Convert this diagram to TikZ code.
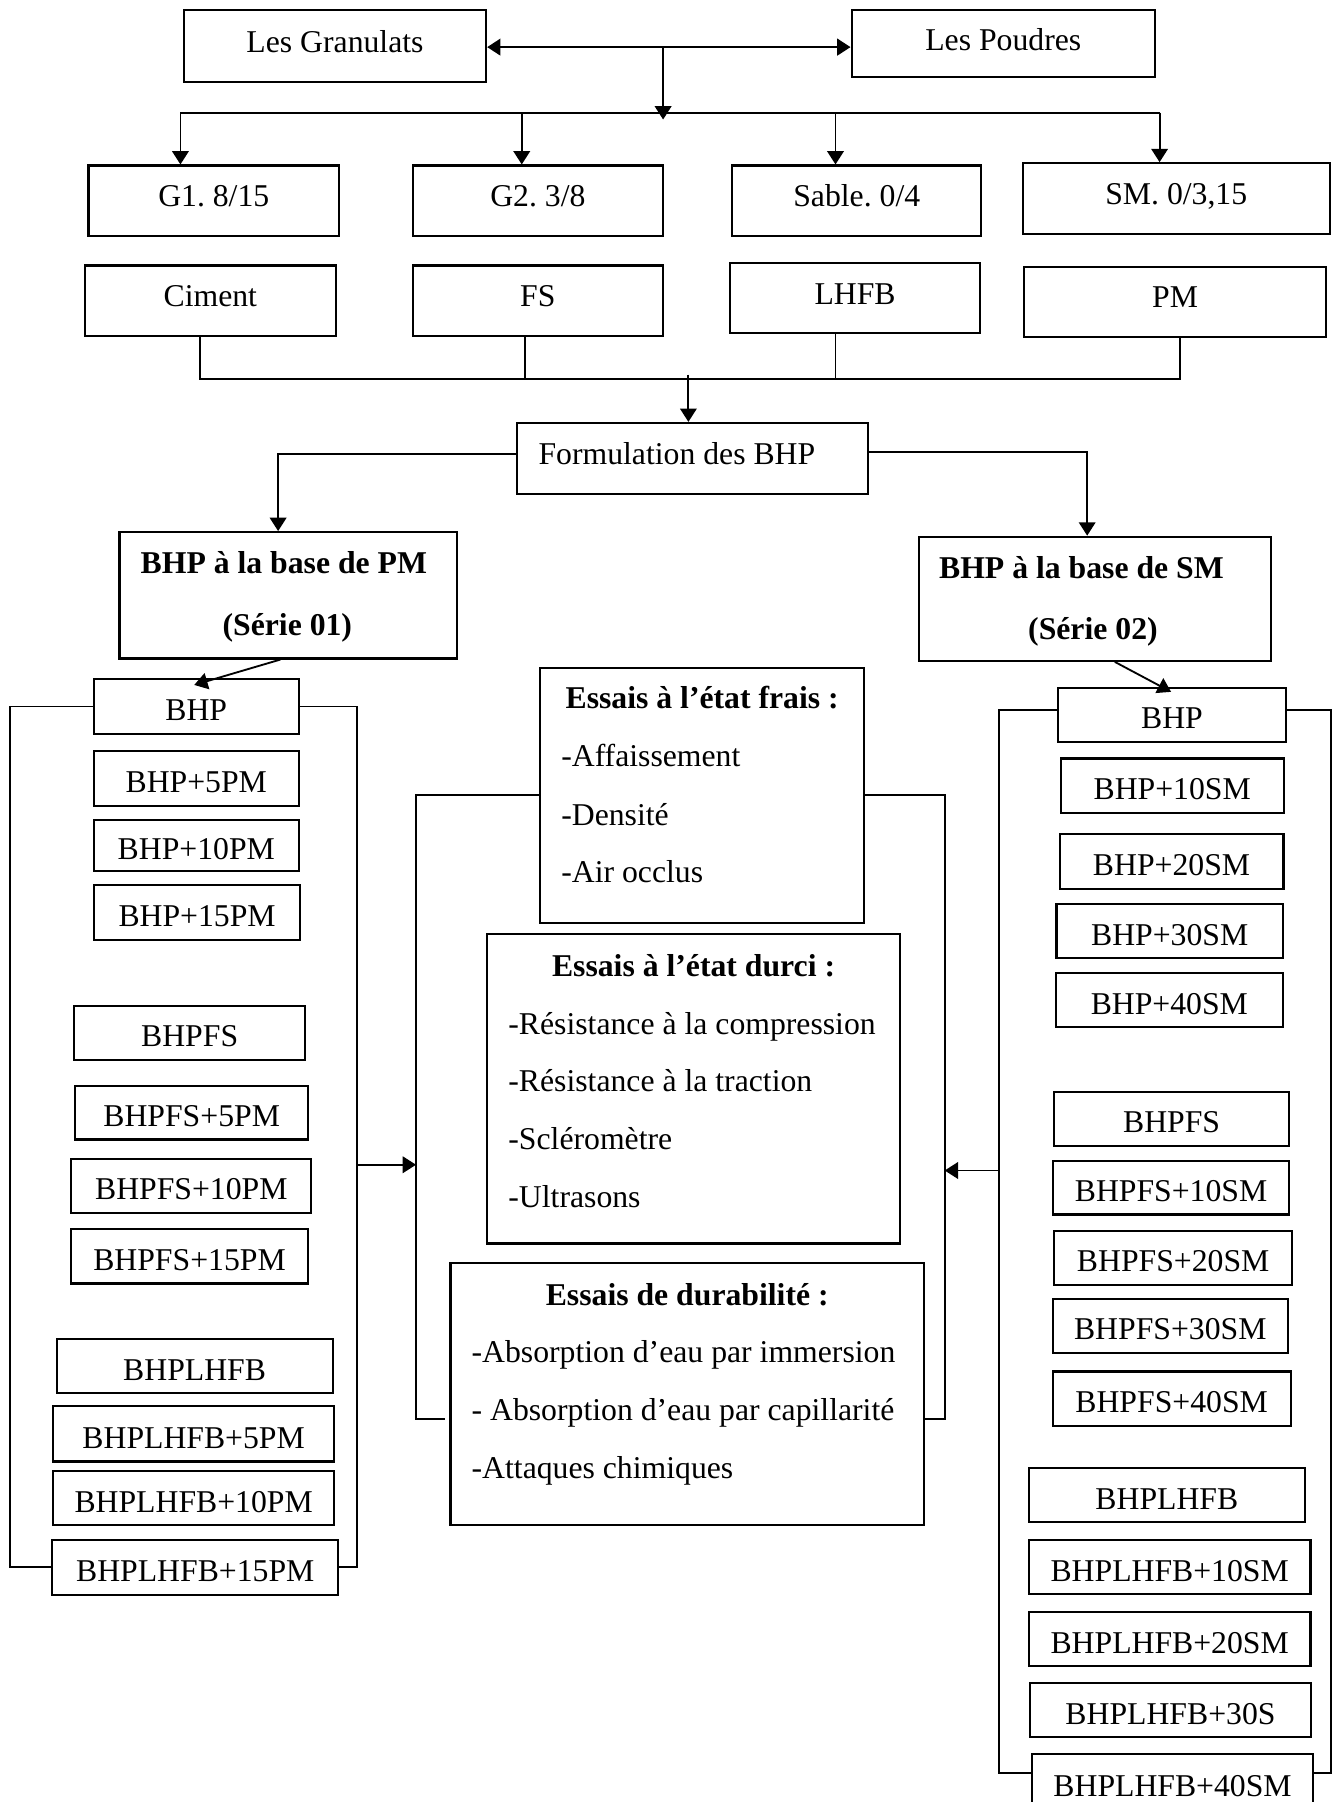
\documentclass[tikz,border=0pt]{standalone}
\usepackage{fontspec}
\setmainfont{Liberation Serif}
\usetikzlibrary{arrows.meta}
\frenchspacing
\newcommand\fsz{\fontsize{13.8}{16}\selectfont}
\newcommand\tup[1]{\raisebox{4pt}{#1}}
\newcommand\tdn[1]{\rule{0pt}{12.4pt}#1}
\newcommand\rbox[6]{\node[box, minimum width={(#4-#2)*0.5pt}, minimum height={(#5-#3)*0.5pt}] (#1) at ({(#2+#4)/2},{(#3+#5)/2}) {#6};}
\begin{document}
\begin{tikzpicture}[x=0.5pt,y=-0.5pt,
  box/.style={draw,line width=0.9pt,inner sep=0pt,font=\fsz},
  txt/.style={inner sep=0pt,font=\fsz},
  btxt/.style={inner sep=0pt,font=\fsz\bfseries},
  conn/.style={line width=0.8pt},
  arr/.style={conn,-{Triangle[length=5.8pt,width=7.2pt]}},
  darr/.style={line width=1.1pt,{Triangle[length=5.8pt,width=7.2pt]}-{Triangle[length=5.8pt,width=7.2pt]}}]
\fill[white] (0,0) rectangle (1165,1568);
\useasboundingbox (0,0) rectangle (1165,1568);

% top
\rbox{gran}{160}{9}{423}{71}{\tup{Les Granulats}}
\rbox{poud}{741}{9}{1005}{67}{\tup{Les Poudres}}
% row 1
\rbox{g1}{77}{144}{295}{205}{\tup{G1. 8/15}}
\rbox{g2}{359}{144}{577}{205}{\tup{G2. 3/8}}
\rbox{sab}{637}{144}{854}{205}{\tup{Sable. 0/4}}
\rbox{smb}{890}{142}{1157}{204}{\tup{SM. 0/3,15}}
% row 2
\rbox{cim}{74}{231}{292}{292}{\tup{Ciment}}
\rbox{fs}{359}{231}{577}{292}{\tup{FS}}
\rbox{lhfb}{635}{229}{853}{290}{\tup{LHFB}}
\rbox{pmb}{891}{232}{1154}{293}{\tup{PM}}
% formulation
\rbox{form}{450}{368}{755}{430}{}
\node[txt] (formt) at (589,395) {Formulation des BHP};
% series
\rbox{pm}{104}{463}{398}{573}{}
\node[btxt] (pmt1) at (247,490) {BHP à la base de PM};
\node[btxt] (pmt2) at (250,546) {(Série 01)};
\rbox{smx}{800}{467}{1106}{575}{}
\node[btxt] (smt1) at (941,494) {BHP à la base de SM};
\node[btxt] (smt2) at (951,550) {(Série 02)};

% left column
\rbox{lb0}{81.6}{591}{260}{638.6}{\tdn{BHP}}
\rbox{lb5}{81.6}{653.4}{260}{701}{\tdn{BHP+5PM}}
\rbox{lb10}{81.6}{713.4}{260}{757.8}{\tdn{BHP+10PM}}
\rbox{lb15}{82}{770}{261}{817.8}{\tdn{BHP+15PM}}
\rbox{lfs}{64.5}{875}{265.6}{922}{\tdn{BHPFS}}
\rbox{lfs5}{65.6}{944.6}{268}{991.5}{\tdn{BHPFS+5PM}}
\rbox{lfs10}{62}{1008.4}{271}{1055.3}{\tdn{BHPFS+10PM}}
\rbox{lfs15}{61.8}{1069.5}{268}{1116.8}{\tdn{BHPFS+15PM}}
\rbox{ll}{49.3}{1165}{289.4}{1212}{\tdn{BHPLHFB}}
\rbox{ll5}{46}{1223.8}{291}{1271.7}{\tdn{BHPLHFB+5PM}}
\rbox{ll10}{46}{1279.8}{291}{1327.3}{\tdn{BHPLHFB+10PM}}
\rbox{ll15}{45.3}{1340}{294.5}{1387.7}{\tdn{BHPLHFB+15PM}}

% right column
\rbox{rb0}{921}{598.3}{1118.6}{645.3}{\tdn{BHP}}
\rbox{rb10}{923}{660}{1117}{707.3}{\tdn{BHP+10SM}}
\rbox{rb20}{922}{726}{1116.8}{773.7}{\tdn{BHP+20SM}}
\rbox{rb30}{919.3}{786.8}{1116.3}{833.8}{\tdn{BHP+30SM}}
\rbox{rb40}{919}{847}{1116}{894}{\tdn{BHP+40SM}}
\rbox{rfs}{917}{949.8}{1122}{997}{\tdn{BHPFS}}
\rbox{rfs10}{916}{1010}{1122}{1056.8}{\tdn{BHPFS+10SM}}
\rbox{rfs20}{917.3}{1071}{1124.4}{1118}{\tdn{BHPFS+20SM}}
\rbox{rfs30}{916}{1130}{1120.6}{1177.4}{\tdn{BHPFS+30SM}}
\rbox{rfs40}{916}{1193.4}{1123}{1240.6}{\tdn{BHPFS+40SM}}
\rbox{rl}{895.3}{1277.5}{1135.4}{1324.7}{\tdn{BHPLHFB}}
\rbox{rl10}{895.3}{1340}{1140.3}{1387}{\tdn{BHPLHFB+10SM}}
\rbox{rl20}{895.3}{1403}{1140.3}{1450}{\tdn{BHPLHFB+20SM}}
\rbox{rl30}{896.4}{1464.5}{1140.6}{1511.5}{\tdn{BHPLHFB+30S}}
\rbox{rl40}{898}{1526}{1142.6}{1576}{\tdn{BHPLHFB+40SM}}

% middle boxes
\rbox{frais}{470}{581}{752}{803}{}
\node[btxt] (ft) at (611,607) {Essais à l’état frais :};
\node[txt,anchor=mid west] (f1) at (488,662.5) {-Affaissement};
\node[txt,anchor=mid west] (f2) at (488,713.5) {-Densité};
\node[txt,anchor=mid west] (f3) at (488,763.5) {-Air occlus};
\rbox{durci}{424}{812.6}{783}{1082}{}
\node[btxt] (dt) at (603.5,840.5) {Essais à l’état durci :};
\node[txt,anchor=mid west] (d1) at (442,895.5) {-Résistance à la compression};
\node[txt,anchor=mid west] (d2) at (442,945.5) {-Résistance à la traction};
\node[txt,anchor=mid west] (d3) at (442,995.5) {-Scléromètre};
\node[txt,anchor=mid west] (d4) at (442,1046.5) {-Ultrasons};
\rbox{durab}{392}{1099}{804}{1327}{}
\node[btxt] (bt) at (598,1127) {Essais de durabilité :};
\node[txt,anchor=mid west] (b1) at (410,1181) {-Absorption d’eau par immersion};
\node[txt,anchor=mid west] (b2) at (410,1231) {- Absorption d’eau par capillarité};
\node[txt,anchor=mid west] (b3) at (410,1282) {-Attaques chimiques};

% connectors top
\coordinate (ty) at (0,41);
\draw[darr] (gran.east |- ty) -- (poud.west |- ty);
\coordinate (st1) at (577,41);
\coordinate (st2) at (577,104);
\draw[arr] (st1) -- (st2);
\coordinate (bl) at (157,98);
\coordinate (br) at (1009,98);
\coordinate (dd2) at (454,98);
\coordinate (dd3) at (727,98);
\draw[conn] (bl) -- (br);
\draw[arr] (bl) -- (bl |- g1.north);
\draw[arr] (dd2) -- (dd2 |- g2.north);
\draw[arr] (dd3) -- (dd3 |- sab.north);
\draw[arr] (br) -- (br |- smb.north);

% row 2 bus
\coordinate (e1) at (174,330);
\coordinate (e2) at (457,330);
\coordinate (e3) at (727,330);
\coordinate (e4) at (1027,330);
\draw[conn] (e1 |- cim.south) -- (e1) -- (e4) -- (e4 |- pmb.south);
\draw[conn] (e2 |- fs.south) -- (e2);
\draw[conn] (e3 |- lhfb.south) -- (e3);
\coordinate (f0) at (599,326);
\draw[arr] (f0) -- (f0 |- form.north);

% formulation to series
\coordinate (fl) at (242,395);
\coordinate (fr) at (946,393);
\draw[arr] (form.west |- fl) -- (fl) -- (fl |- pm.north);
\draw[arr] (form.east |- fr) -- (fr) -- (fr |- smx.north);

% diagonals
\coordinate (pmo) at (244,573);
\coordinate (pmi) at (169,596);
\draw[arr] (pm.south -| pmo) -- (pmi);
\coordinate (smo) at (970,575);
\coordinate (smi) at (1019,602);
\draw[arr] (smx.south -| smo) -- (smi);

% left bracket
\coordinate (lx) at (9,0);
\coordinate (rx) at (311,0);
\draw[conn] (lb0.west) -- (lb0.west -| lx) -- (ll15.west -| lx) -- (ll15.west);
\draw[conn] (lb0.east) -- (lb0.east -| rx) -- (ll15.east -| rx) -- (ll15.east);

% right bracket
\coordinate (rlx) at (869,0);
\coordinate (rrx) at (1158,0);
\coordinate (rty) at (0,617.5);
\coordinate (rby) at (0,1542.5);
\draw[conn] (rb0.west |- rty) -- (rlx |- rty) -- (rlx |- rby) -- (rl40.west |- rby);
\draw[conn] (rb0.east |- rty) -- (rrx |- rty) -- (rrx |- rby) -- (rl40.east |- rby);

% middle bracket
\coordinate (mlx) at (362,0);
\coordinate (mrx) at (822,0);
\coordinate (mby) at (0,1235);
\coordinate (mls) at (387,1235);
\coordinate (mrs) at (805,1235);
\draw[conn] (frais.west) -- (frais.west -| mlx) -- (mlx |- mby) -- (mls);
\draw[conn] (frais.east) -- (frais.east -| mrx) -- (mrx |- mby) -- (mrs);

% arrows to tests
\coordinate (la) at (311,1013.5);
\draw[arr] (la) -- (mlx |- la);
\coordinate (ra) at (869,1018.5);
\draw[arr] (ra) -- (mrx |- ra);
\end{tikzpicture}
\end{document}
